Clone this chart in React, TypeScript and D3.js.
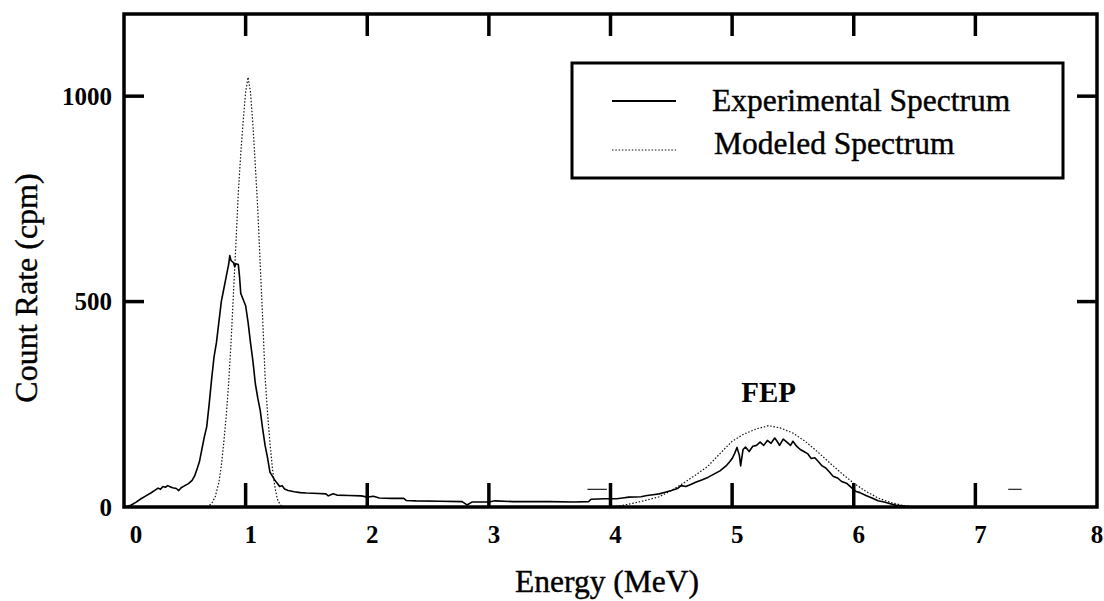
import React from 'react';
import * as d3 from 'd3';

// ---- data ----
const xTickValues = [0, 1, 2, 3, 4, 5, 6, 7, 8];
const yTickValues = [0, 500, 1000];
const innerXTicks = [1, 2, 3, 4, 5, 6, 7];
const innerYTicks = [500, 1000];

const seriesNames = ['Experimental Spectrum', 'Modeled Spectrum'];

const experimentalSpectrum: [number, number][] = [
  [0.0, 0], [0.03, 2], [0.06, 5], [0.1, 12], [0.14, 20], [0.18, 27], [0.22, 34], [0.25, 40],
  [0.28, 46], [0.3, 43], [0.32, 50], [0.34, 48], [0.36, 52], [0.38, 49], [0.4, 47], [0.43, 45],
  [0.45, 40], [0.47, 47], [0.5, 52], [0.53, 57], [0.56, 65], [0.58, 75], [0.6, 92], [0.62, 110],
  [0.64, 140], [0.66, 170], [0.68, 195], [0.7, 250], [0.72, 310], [0.74, 365], [0.76, 400],
  [0.78, 450], [0.8, 500], [0.82, 530], [0.84, 560], [0.86, 590], [0.87, 612], [0.88, 600],
  [0.9, 595], [0.91, 585], [0.92, 592], [0.94, 590], [0.95, 560], [0.96, 520], [0.98, 505],
  [1.0, 490], [1.02, 450], [1.04, 400], [1.06, 355], [1.08, 300], [1.1, 265], [1.12, 235],
  [1.14, 190], [1.16, 150], [1.18, 120], [1.2, 85], [1.22, 75], [1.24, 65], [1.26, 58],
  [1.28, 50], [1.3, 52], [1.32, 44], [1.35, 40], [1.4, 37], [1.45, 35], [1.5, 34], [1.6, 33],
  [1.66, 32], [1.68, 27], [1.7, 30], [1.72, 32], [1.75, 29], [1.85, 28], [1.95, 27], [2.0, 24],
  [2.05, 26], [2.1, 22], [2.2, 21], [2.3, 21], [2.32, 16], [2.4, 15], [2.6, 14], [2.78, 13],
  [2.82, 5], [2.86, 12], [3.0, 12], [3.05, 15], [3.2, 13], [3.5, 13], [3.7, 12], [3.82, 13],
  [3.84, 19], [3.95, 20], [4.05, 20], [4.1, 22], [4.15, 24], [4.25, 25], [4.3, 28], [4.35, 30],
  [4.4, 32], [4.45, 36], [4.5, 40], [4.55, 45], [4.58, 52], [4.62, 50], [4.66, 55], [4.7, 60],
  [4.75, 66], [4.8, 72], [4.85, 80], [4.9, 88], [4.95, 100], [4.98, 110], [5.0, 118], [5.02, 130],
  [5.04, 145], [5.06, 125], [5.07, 100], [5.09, 140], [5.11, 146], [5.14, 135], [5.17, 148],
  [5.2, 150], [5.23, 158], [5.26, 150], [5.29, 162], [5.32, 155], [5.35, 168], [5.37, 160],
  [5.39, 150], [5.42, 165], [5.45, 158], [5.48, 150], [5.5, 160], [5.53, 148], [5.56, 140],
  [5.59, 135], [5.62, 130], [5.65, 118], [5.68, 120], [5.71, 110], [5.74, 100], [5.77, 95],
  [5.8, 85], [5.83, 75], [5.87, 70], [5.9, 62], [5.94, 58], [5.97, 50], [6.0, 42], [6.02, 38],
  [6.05, 35], [6.1, 28], [6.15, 22], [6.2, 15], [6.25, 12], [6.3, 8], [6.35, 4], [6.4, 3],
  [6.45, 0], [6.5, 0],
];

const modeledSpectrum: [number, number][] = [
  [0.68, 0], [0.72, 8], [0.75, 25], [0.78, 60], [0.8, 100], [0.82, 156], [0.84, 220], [0.86, 300],
  [0.88, 400], [0.9, 520], [0.92, 640], [0.94, 766], [0.96, 860], [0.98, 940], [1.0, 1010],
  [1.02, 1046], [1.04, 1010], [1.06, 930], [1.08, 830], [1.1, 724], [1.12, 590], [1.14, 460],
  [1.16, 317], [1.18, 230], [1.2, 156], [1.22, 95], [1.24, 50], [1.26, 20], [1.28, 8], [1.3, 0],
  [4.0, 0], [4.1, 4], [4.2, 10], [4.3, 17], [4.4, 25], [4.5, 40], [4.6, 58], [4.7, 78], [4.8, 99],
  [4.9, 130], [5.0, 160], [5.1, 178], [5.2, 190], [5.3, 198], [5.4, 192], [5.5, 180], [5.6, 160],
  [5.7, 135], [5.8, 108], [5.9, 82], [6.0, 58], [6.1, 38], [6.2, 22], [6.3, 11], [6.4, 4], [6.5, 0],
];

// short stray dashes seen on the scan: [xStart, xEnd, y]
const strayMarks: [number, number, number][] = [
  [3.81, 3.97, 43],
  [7.27, 7.38, 43],
];

const peakLabel = { text: 'FEP', x: 5.3, y: 255 };

// ---- layout ----
const W = 1104;
const H = 601;
const left = 124;
const right = 1097;
const top = 14;
const bottom = 507;
const FONT = '"Liberation Serif", "Times New Roman", serif';

const labelShift = (t: number) => (t === 0 ? 12 : t === 8 ? 0 : 5);

export default function App() {
  const x = d3.scaleLinear().domain([0, 8]).range([left, right]);
  const y = d3.scaleLinear().domain([0, 1200]).range([bottom, top]);
  const line = d3
    .line<[number, number]>()
    .x((d) => x(d[0]))
    .y((d) => y(d[1]));

  const textInk = { fill: '#000', stroke: '#000', strokeWidth: 0.4 };

  return (
    <svg
      width={W}
      height={H}
      viewBox={`0 0 ${W} ${H}`}
      style={{ position: 'fixed', left: 0, top: 0, background: '#fff' }}
    >
      <rect x={0} y={0} width={W} height={H} fill="#fff" />

      {/* data lines */}
      <path
        d={line(modeledSpectrum) || ''}
        fill="none"
        stroke="#111"
        strokeWidth={1.2}
        strokeDasharray="1.5,1.8"
      />
      <path
        d={line(experimentalSpectrum) || ''}
        fill="none"
        stroke="#000"
        strokeWidth={1.6}
        strokeLinejoin="round"
      />
      {strayMarks.map((m, i) => (
        <line key={i} x1={x(m[0])} x2={x(m[1])} y1={y(m[2])} y2={y(m[2])} stroke="#222" strokeWidth={1.2} />
      ))}

      {/* frame */}
      <rect
        x={left}
        y={top}
        width={right - left}
        height={bottom - top}
        fill="none"
        stroke="#000"
        strokeWidth={3.5}
      />

      {/* ticks */}
      {innerXTicks.map((t) => (
        <g key={'xt' + t}>
          <line x1={x(t)} x2={x(t)} y1={bottom} y2={bottom - 24} stroke="#000" strokeWidth={3.5} />
          <line x1={x(t)} x2={x(t)} y1={top} y2={top + 22} stroke="#000" strokeWidth={3.5} />
        </g>
      ))}
      {innerYTicks.map((t) => (
        <g key={'yt' + t}>
          <line x1={left} x2={left + 20} y1={y(t)} y2={y(t)} stroke="#000" strokeWidth={3.5} />
          <line x1={right} x2={right - 20} y1={y(t)} y2={y(t)} stroke="#000" strokeWidth={3.5} />
        </g>
      ))}

      {/* tick labels */}
      {xTickValues.map((t) => (
        <text
          key={'xl' + t}
          x={x(t) + labelShift(t)}
          y={543}
          textAnchor="middle"
          fontFamily={FONT}
          fontSize={25}
          fontWeight="bold"
          fill="#000"
        >
          {t}
        </text>
      ))}
      {yTickValues.map((t) => (
        <text
          key={'yl' + t}
          x={112}
          y={y(t)}
          dy="0.35em"
          textAnchor="end"
          fontFamily={FONT}
          fontSize={25}
          fontWeight="bold"
          fill="#000"
        >
          {t}
        </text>
      ))}

      {/* axis titles */}
      <text x={607} y={592} textAnchor="middle" fontFamily={FONT} fontSize={31.5} {...textInk}>
        Energy (MeV)
      </text>
      <text
        transform="translate(37, 288) rotate(-90)"
        textAnchor="middle"
        fontFamily={FONT}
        fontSize={32}
        {...textInk}
      >
        Count Rate (cpm)
      </text>

      {/* peak label */}
      <text
        x={x(peakLabel.x)}
        y={y(peakLabel.y)}
        textAnchor="middle"
        fontFamily={FONT}
        fontSize={29}
        fontWeight="bold"
        fill="#000"
      >
        {peakLabel.text}
      </text>

      {/* legend */}
      <rect x={572} y={63} width={491} height={115} fill="#fff" stroke="#000" strokeWidth={3} />
      <line x1={612} x2={676} y1={101} y2={101} stroke="#000" strokeWidth={2} />
      <line x1={612} x2={676} y1={150} y2={150} stroke="#111" strokeWidth={1.2} strokeDasharray="1.5,1.8" />
      <text x={712} y={111} fontFamily={FONT} fontSize={31.5} {...textInk}>
        {seriesNames[0]}
      </text>
      <text x={714} y={154} fontFamily={FONT} fontSize={31.5} {...textInk}>
        {seriesNames[1]}
      </text>
    </svg>
  );
}
